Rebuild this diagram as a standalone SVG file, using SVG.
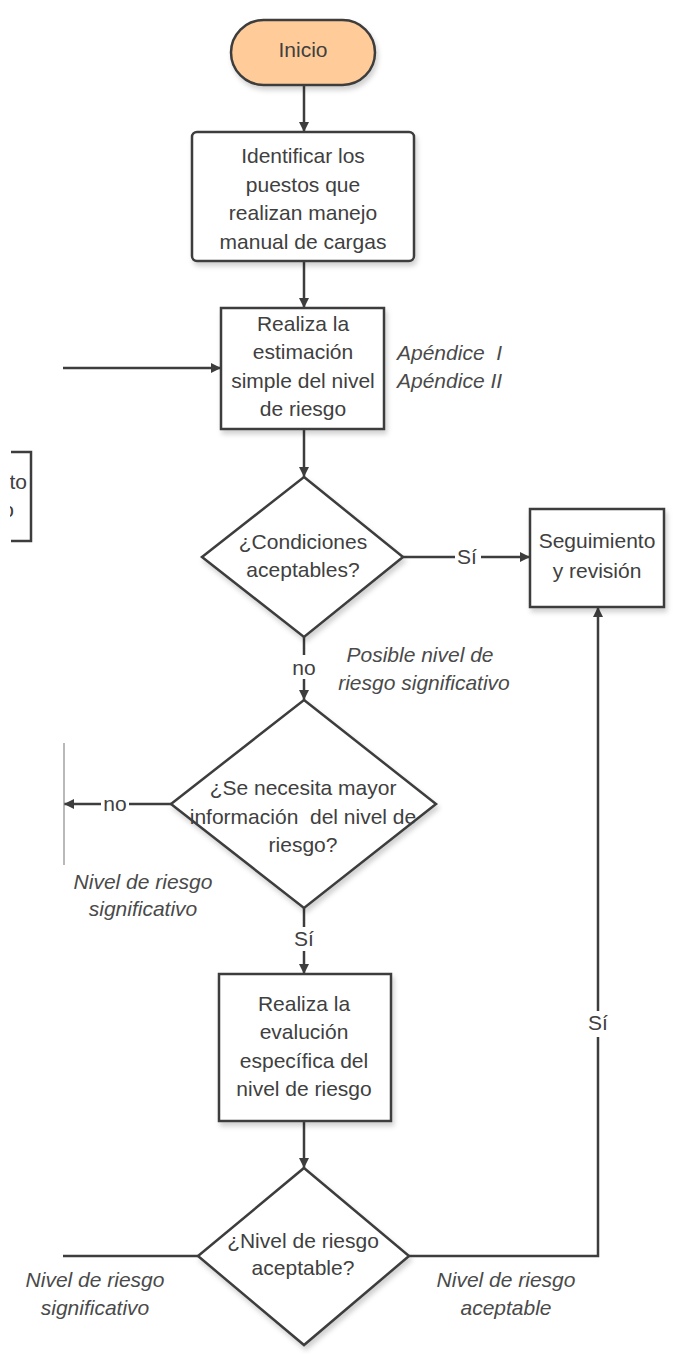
<svg xmlns="http://www.w3.org/2000/svg" width="673" height="1354" viewBox="0 0 673 1354">
<style>
.shape{fill:#ffffff;stroke:#3d3d3d;stroke-width:2.5;filter:url(#sh)}
.start{fill:#ffcc99}
.t{font-family:"Liberation Sans",Arial,sans-serif;font-size:21px;fill:#404040;text-anchor:middle}
.i{font-family:"Liberation Sans",Arial,sans-serif;font-size:21px;fill:#4a4a4a;font-style:italic;text-anchor:middle}
.ln{fill:none;stroke:#3d3d3d;stroke-width:2.5}
.arr{marker-end:url(#ah)}
.lbl{font-family:"Liberation Sans",Arial,sans-serif;font-size:21px;fill:#404040;text-anchor:middle}
.pre{white-space:pre}
</style>
<defs>
<filter id="sh" x="-10%" y="-10%" width="130%" height="130%">
<feDropShadow dx="2" dy="4" stdDeviation="2.5" flood-color="#000" flood-opacity="0.18"/>
</filter>
<marker id="ah" viewBox="0 0 10 10" refX="10" refY="5" markerWidth="4.4" markerHeight="4" orient="auto" markerUnits="strokeWidth">
<path d="M0,0 L10,5 L0,10 z" fill="#3d3d3d"/>
</marker>
<clipPath id="edge"><rect x="10" y="440" width="40" height="120"/></clipPath>
</defs>
<rect width="673" height="1354" fill="#ffffff"/>

<g id="connectors">
<line class="ln arr" x1="304" y1="85" x2="304" y2="132"/>
<line class="ln arr" x1="304" y1="261" x2="304" y2="308"/>
<line class="ln arr" x1="63" y1="368" x2="221" y2="368"/>
<line class="ln arr" x1="304" y1="429" x2="304" y2="477"/>
<line class="ln arr" x1="403" y1="557" x2="530" y2="557"/>
<rect x="455" y="545" width="26" height="22" fill="#ffffff"/>
<text class="lbl" x="467" y="564">Sí</text>
<line class="ln arr" x1="304" y1="637" x2="304" y2="700"/>
<rect x="290" y="655" width="28" height="24" fill="#ffffff"/>
<text class="lbl" x="304" y="675">no</text>
<line class="ln arr" x1="171" y1="804" x2="64" y2="804"/>
<rect x="101" y="793" width="28" height="22" fill="#ffffff"/>
<text class="lbl" x="115" y="811">no</text>
<line x1="64" y1="743" x2="64" y2="865" stroke="#8a8a8a" stroke-width="1.2"/>
<line class="ln arr" x1="304" y1="908" x2="304" y2="974"/>
<rect x="291" y="927" width="26" height="24" fill="#ffffff"/>
<text class="lbl" x="304" y="946">Sí</text>
<line class="ln arr" x1="304" y1="1121" x2="304" y2="1168"/>
<line class="ln" x1="198" y1="1256" x2="63" y2="1256"/>
<polyline class="ln arr" points="409,1256 598,1256 598,607"/>
<rect x="585" y="1011" width="26" height="26" fill="#ffffff"/>
<text class="lbl" x="598" y="1030">Sí</text>
</g>

<g id="inicio">
<rect class="shape start" x="231" y="20" width="144" height="65" rx="32.5"/>
<text class="t" x="303" y="57">Inicio</text>
</g>

<g id="identificar">
<rect class="shape" x="192" y="132" width="222" height="129" rx="5"/>
<text class="t" x="303" y="163">Identificar los</text>
<text class="t" x="303" y="192">puestos que</text>
<text class="t" x="303" y="220">realizan manejo</text>
<text class="t" x="303" y="249">manual de cargas</text>
</g>

<g id="estimacion">
<rect class="shape" x="221" y="308" width="163" height="121"/>
<text class="t" x="303" y="331">Realiza la</text>
<text class="t" x="303" y="359">estimación</text>
<text class="t" x="303" y="388">simple del nivel</text>
<text class="t" x="303" y="416">de riesgo</text>
<text class="i pre" x="397" y="360" style="text-anchor:start">Apéndice  I</text>
<text class="i" x="397" y="388" style="text-anchor:start">Apéndice II</text>
</g>

<g id="partial-box">
<polyline points="11,452 31,452 31,541 11,541" fill="#ffffff" stroke="#3d3d3d" stroke-width="2.5"/>
<g clip-path="url(#edge)">
<text class="t" x="27" y="489" style="text-anchor:end">to</text>
<text class="t" x="14" y="517" style="text-anchor:end">o</text>
</g>
</g>

<g id="condiciones">
<polygon class="shape" points="304,477 403,557 304,637 202,557"/>
<text class="t" x="303" y="549">¿Condiciones</text>
<text class="t" x="303" y="577">aceptables?</text>
<text class="i" x="420" y="662">Posible nivel de</text>
<text class="i" x="424" y="690">riesgo significativo</text>
</g>

<g id="seguimiento">
<rect class="shape" x="530" y="509" width="134" height="98"/>
<text class="t" x="597" y="548">Seguimiento</text>
<text class="t" x="597" y="578">y revisión</text>
</g>

<g id="mayor-info">
<polygon class="shape" points="304,700 436,804 304,908 171,804"/>
<text class="t" x="303" y="795">¿Se necesita mayor</text>
<text class="t pre" x="303" y="824">información  del nivel de</text>
<text class="t" x="303" y="852">riesgo?</text>
<text class="i" x="143" y="889">Nivel de riesgo</text>
<text class="i" x="143" y="916">significativo</text>
</g>

<g id="evaluacion">
<rect class="shape" x="219" y="974" width="172" height="147"/>
<text class="t" x="304" y="1011">Realiza la</text>
<text class="t" x="304" y="1039">evalución</text>
<text class="t" x="304" y="1068">específica del</text>
<text class="t" x="304" y="1096">nivel de riesgo</text>
</g>

<g id="aceptable">
<polygon class="shape" points="304,1168 409,1256 304,1345 198,1256"/>
<text class="t" x="303" y="1248">¿Nivel de riesgo</text>
<text class="t" x="303" y="1275">aceptable?</text>
<text class="i" x="95" y="1287">Nivel de riesgo</text>
<text class="i" x="95" y="1315">significativo</text>
<text class="i" x="506" y="1287">Nivel de riesgo</text>
<text class="i" x="506" y="1315">aceptable</text>
</g>
</svg>
